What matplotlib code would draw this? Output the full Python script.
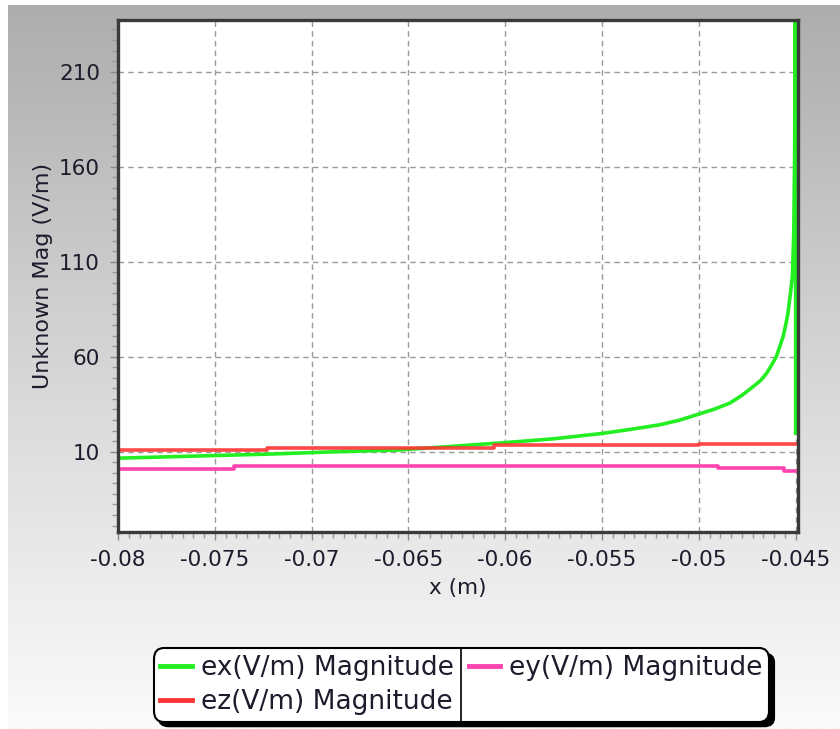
import numpy as np
import matplotlib
matplotlib.use('Agg')
import matplotlib.pyplot as plt
from matplotlib.ticker import FixedLocator
from matplotlib.colors import LinearSegmentedColormap
from matplotlib.patches import FancyBboxPatch
from matplotlib.lines import Line2D

# ---------------- data ----------------
ex_x = [-0.0800, -0.0760, -0.0720, -0.0690, -0.0655, -0.0625, -0.0600, -0.0575,
        -0.0550, -0.0535, -0.0520, -0.0510, -0.0500, -0.0492, -0.0484, -0.0478,
        -0.0472, -0.0468, -0.0465, -0.04625, -0.0460, -0.04585, -0.04565, -0.04552,
        -0.0454, -0.04527, -0.04517, -0.0451, -0.04505, -0.0450, -0.0450]
ex_y = [6.6, 7.7, 8.8, 9.9, 10.9, 13.0, 14.8, 16.8,
        19.6, 21.8, 24.2, 26.6, 29.8, 32.4, 35.6, 39.5,
        44.2, 47.6, 51.3, 55.5, 60.0, 64.5, 70.5, 76.5,
        82.9, 93.4, 102.0, 125.0, 170.0, 400.0, 19.7]

ez_x = [-0.0800, -0.0723, -0.0606, -0.0500, -0.0450]
ez_y = [10.9, 12.2, 13.3, 14.2, 14.2]

ey_x = [-0.0800, -0.0740, -0.0490, -0.0456, -0.0450]
ey_y = [0.9, 2.5, 1.3, 0.1, 0.1]

x_ticks = [-0.08, -0.075, -0.07, -0.065, -0.06, -0.055, -0.05, -0.045]
x_ticklabels = ['-0.08', '-0.075', '-0.07', '-0.065', '-0.06', '-0.055', '-0.05', '-0.045']
y_ticks = [10, 60, 110, 160, 210]
y_ticklabels = ['10', '60', '110', '160', '210']

labels = ['ex(V/m) Magnitude', 'ez(V/m) Magnitude', 'ey(V/m) Magnitude']
colors = {'ex': '#22ee22', 'ez': '#ff3434', 'ey': '#ff44b0'}

# ---------------- figure ----------------
W, H = 840, 729
fig = plt.figure(figsize=(W / 100, H / 100), dpi=100)
fig.patch.set_facecolor('white')

# gradient background panel
bg = fig.add_axes([8 / W, 0, 1 - 8 / W, 1 - 5 / H], zorder=-10)
grad = np.linspace(0, 1, 256).reshape(-1, 1)
cmap = LinearSegmentedColormap.from_list('g', ['#adadad', '#d6d6d6', '#fbfbfb'])
bg.imshow(grad, aspect='auto', cmap=cmap, extent=[0, 1, 0, 1], origin='upper')
bg.set_axis_off()

left_px, right_px, top_px, bot_px = 118, 798, 20, 531.7
ax = fig.add_axes([left_px / W, 1 - bot_px / H, (right_px - left_px) / W, (bot_px - top_px) / H])
ax.set_facecolor('white')

ax.set_xlim(-0.08, -0.04488)
ax.set_ylim(-32.1, 237.2)

text_color = '#1c1c2c'
fs = 15.5

ax.set_xticks(x_ticks)
ax.set_xticklabels(x_ticklabels)
ax.set_yticks(y_ticks)
ax.set_yticklabels(y_ticklabels)

xminor = np.arange(-0.08, -0.0448, 0.005 / 9)
yminor = np.arange(10 - 50 / 9 * 7, 240, 50 / 9)
ax.xaxis.set_minor_locator(FixedLocator(xminor))
ax.yaxis.set_minor_locator(FixedLocator(yminor))

ax.tick_params(axis='both', which='major', direction='out', length=6, width=1,
               color='#8a8a8a', labelsize=fs, labelcolor=text_color, pad=7)
ax.tick_params(axis='both', which='minor', direction='out', length=4, width=1,
               color='#9a9a9a')

ax.grid(True, which='major', color='#9a9a9a', linestyle=(0, (4, 3)), linewidth=1)
ax.set_axisbelow(True)

for s in ax.spines.values():
    s.set_color('#3a3a3a')
    s.set_linewidth(2.4)

lw = 2.6
l_ex, = ax.plot(ex_x, ex_y, color=colors['ex'], lw=lw, solid_joinstyle='round')
l_ey, = ax.plot(ey_x, ey_y, color=colors['ey'], lw=lw, drawstyle='steps-post')
l_ez, = ax.plot(ez_x, ez_y, color=colors['ez'], lw=lw, drawstyle='steps-post', alpha=0.9)

ax.set_xlabel('x (m)', fontsize=fs, color=text_color, labelpad=6)
ax.set_ylabel('Unknown Mag (V/m)', fontsize=fs + 0.5, color=text_color, labelpad=4)

# legend
h_ex = Line2D([], [], color=colors['ex'], lw=3.5)
h_ez = Line2D([], [], color=colors['ez'], lw=3.5)
h_ey = Line2D([], [], color=colors['ey'], lw=3.5)
lfs = 19
leg = fig.legend(handles=[h_ex, h_ez, h_ey], labels=labels, ncol=2,
                 loc='center', bbox_to_anchor=(461.5 / W, 1 - 685 / H),
                 frameon=True, fancybox=True, framealpha=1,
                 facecolor='white', edgecolor='black', fontsize=lfs,
                 handlelength=1.2, handletextpad=0.35, columnspacing=0.55,
                 labelspacing=0.3, borderpad=0.25, borderaxespad=0)
for t in leg.get_texts():
    t.set_color(text_color)
frame = leg.get_frame()
frame.set_linewidth(1.5)
frame.set_boxstyle('round,pad=0,rounding_size=0.4')
leg.set_zorder(5)

fig.canvas.draw()
renderer = fig.canvas.get_renderer()
fb = frame.get_window_extent(renderer)
inv = fig.transFigure.inverted()
(x0, y0), (x1, y1) = inv.transform([(fb.x0 + 5, fb.y0 - 5), (fb.x1 + 5, fb.y1 - 5)])
shadow = FancyBboxPatch((x0, y0), x1 - x0, y1 - y0, transform=fig.transFigure,
                        boxstyle='round,pad=0,rounding_size=0.012',
                        facecolor='black', edgecolor='black', zorder=4)
fig.patches.append(shadow)

# column divider
texts = leg.get_texts()
tb = texts[0].get_window_extent(renderer)
hb = leg.legend_handles[2].get_window_extent(renderer)
xd = (tb.x1 + hb.x0) / 2
(xdf, yb), (_, yt) = inv.transform([(xd, fb.y0), (xd, fb.y1)])
fig.add_artist(Line2D([xdf, xdf], [yb, yt], transform=fig.transFigure,
                      color='black', lw=1.2, zorder=6))

fig.savefig('out.png', dpi=100, facecolor=fig.get_facecolor())
